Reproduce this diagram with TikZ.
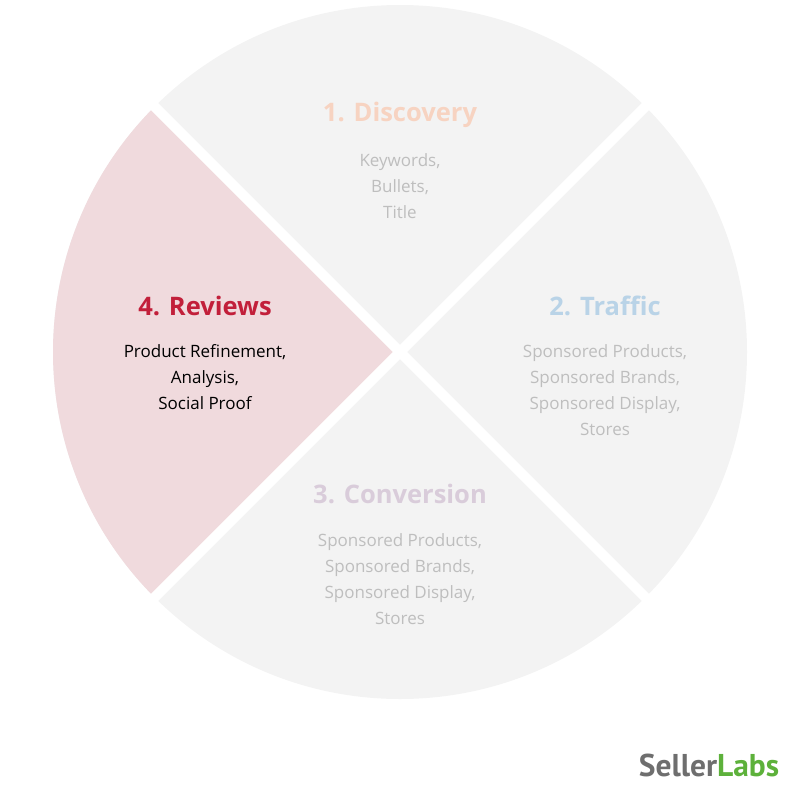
\documentclass[tikz,border=0pt]{standalone}
\usepackage{fontspec}
\usetikzlibrary{calc}
\setmainfont{Open Sans}
\newfontfamily\logofont{PT Sans}
\definecolor{sec}{HTML}{F3F3F3}
\definecolor{pinkbg}{HTML}{F0DADD}
\definecolor{revred}{HTML}{C21F3A}
\definecolor{disc}{HTML}{F7D3C1}
\definecolor{traf}{HTML}{B9D3E7}
\definecolor{conv}{HTML}{D9CCDA}
\definecolor{body}{HTML}{BEBEBE}
\definecolor{lgray}{HTML}{6E6E6E}
\definecolor{lgreen}{HTML}{5DB13B}
\begin{document}
\begin{tikzpicture}[x=1pt,y=-1pt,
  ttl/.style={font=\fontsize{25.5}{28}\selectfont\bfseries},
  bod/.style={font=\fontsize{17}{26}\selectfont,align=center,text=body}]
\useasboundingbox (0,0) rectangle (800,800);
\coordinate (c) at (400,352);
\fill[sec] (c) circle[radius=347];
\fill[pinkbg] (c) -- ++(135:347) arc[start angle=135,end angle=225,radius=347] -- cycle;
\draw[white,line width=10] ($(c)+(45:360)$) -- ($(c)+(225:360)$);
\draw[white,line width=10] ($(c)+(135:360)$) -- ($(c)+(315:360)$);
\node[ttl,text=disc] (t1) at (400,115) {1. Discovery};
\node[bod,anchor=north] (b1) at (400,150) {Keywords,\\Bullets,\\Title};
\node[ttl,text=traf] (t2) at (605,306) {2. Traffic};
\node[bod,anchor=north] (b2) at (605,341) {Sponsored Products,\\Sponsored Brands,\\Sponsored Display,\\Stores};
\node[ttl,text=conv] (t3) at (400,494) {3. Conversion};
\node[bod,anchor=north] (b3) at (400,530) {Sponsored Products,\\Sponsored Brands,\\Sponsored Display,\\Stores};
\node[ttl,text=revred] (t4) at (205,306) {4. Reviews};
\node[bod,anchor=north,text=black] (b4) at (205,341) {Product Refinement,\\Analysis,\\Social Proof};
\node (logo) at (709,765) {\logofont\bfseries\fontsize{31.5}{34}\selectfont\textcolor{lgray}{Seller}\textcolor{lgreen}{Labs}};
\end{tikzpicture}
\end{document}
